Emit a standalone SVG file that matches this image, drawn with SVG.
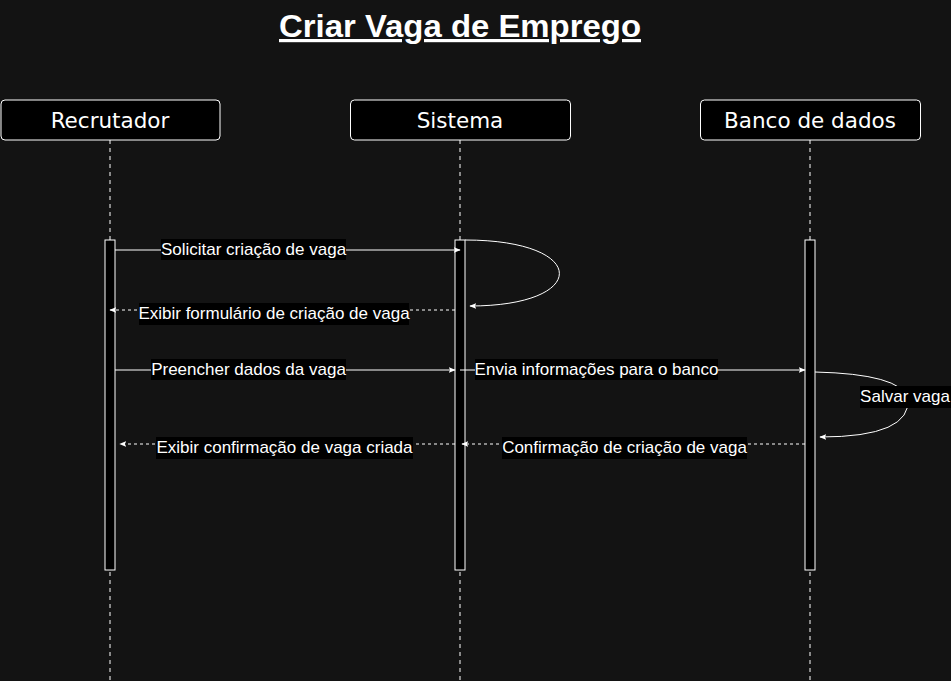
<svg xmlns="http://www.w3.org/2000/svg" width="951" height="681" viewBox="0 0 951 681">
<defs>
<marker id="arr" viewBox="0 0 10 10" refX="9" refY="5" markerWidth="7" markerHeight="7" orient="auto" markerUnits="userSpaceOnUse">
<path d="M0,1 L10,5 L0,9 L2,5 Z" fill="#fff"/>
</marker>
<style>
.actor rect{fill:#000;stroke:#fff;stroke-width:1}
.actor text{fill:#fff;font-family:"DejaVu Sans",sans-serif;font-size:21.5px;text-anchor:middle}
.life{stroke:#fff;stroke-width:1;stroke-dasharray:4 4;fill:none}
.act{fill:#000;stroke:#fff;stroke-width:1}
.msg{stroke:#fff;stroke-width:1;fill:none;marker-end:url(#arr)}
.dash{stroke-dasharray:3 3}
.lbg{fill:#000}
.lbl{fill:#fff;font-family:"Liberation Sans",Arial,sans-serif;font-size:17px;text-anchor:middle}
</style>
</defs>
<rect width="951" height="681" fill="#131313"/>
<g id="title">
<text x="460" y="37" fill="#fff" font-family="Liberation Sans,Arial,sans-serif" font-size="32" font-weight="bold" text-anchor="middle" text-decoration="underline" textLength="362" lengthAdjust="spacingAndGlyphs">Criar Vaga de Emprego</text>
</g>
<g id="recrutador" class="actor">
<line class="life" x1="110" y1="140" x2="110" y2="681"/>
<rect x="1" y="100" width="219" height="40" rx="4"/>
<text x="110" y="128">Recrutador</text>
<rect class="act" x="105" y="240" width="10" height="330"/>
</g>
<g id="sistema" class="actor">
<line class="life" x1="460" y1="140" x2="460" y2="681"/>
<rect x="350.5" y="100" width="220" height="40" rx="4"/>
<text x="460" y="128">Sistema</text>
<rect class="act" x="455" y="240" width="10" height="330"/>
</g>
<g id="banco" class="actor">
<line class="life" x1="810" y1="140" x2="810" y2="681"/>
<rect x="700.5" y="100" width="220" height="40" rx="4"/>
<text x="810" y="128">Banco de dados</text>
<rect class="act" x="805" y="240" width="10" height="330"/>
</g>
<g id="connectors">
<path class="msg" d="M115,250 H460"/>
<path class="msg" d="M465,240 C590,240 590,306 470,306"/>
<path class="msg dash" d="M455,310 H110"/>
<path class="msg" d="M115,370 H455"/>
<path class="msg" d="M460,370 H805"/>
<path class="msg" d="M815,372 Q900,374 908,398 Q912,437 820,437"/>
<path class="msg dash" d="M805,444 H462"/>
<path class="msg dash" d="M455,444 H120"/>
</g>
<g id="labels">
<rect class="lbg" x="161" y="239" width="185" height="21"/>
<text class="lbl" x="253.5" y="255">Solicitar criação de vaga</text>
<rect class="lbg" x="139" y="303" width="270" height="22"/>
<text class="lbl" x="274" y="319">Exibir formulário de criação de vaga</text>
<rect class="lbg" x="151" y="359" width="195" height="21"/>
<text class="lbl" x="248.5" y="375">Preencher dados da vaga</text>
<rect class="lbg" x="475" y="359" width="243" height="21"/>
<text class="lbl" x="596.5" y="375">Envia informações para o banco</text>
<rect class="lbg" x="860" y="386" width="91" height="22"/>
<text class="lbl" x="905" y="402">Salvar vaga</text>
<rect class="lbg" x="502" y="437" width="245" height="22"/>
<text class="lbl" x="624.5" y="453">Confirmação de criação de vaga</text>
<rect class="lbg" x="156" y="437" width="257" height="22"/>
<text class="lbl" x="284.5" y="453">Exibir confirmação de vaga criada</text>
</g>
</svg>
